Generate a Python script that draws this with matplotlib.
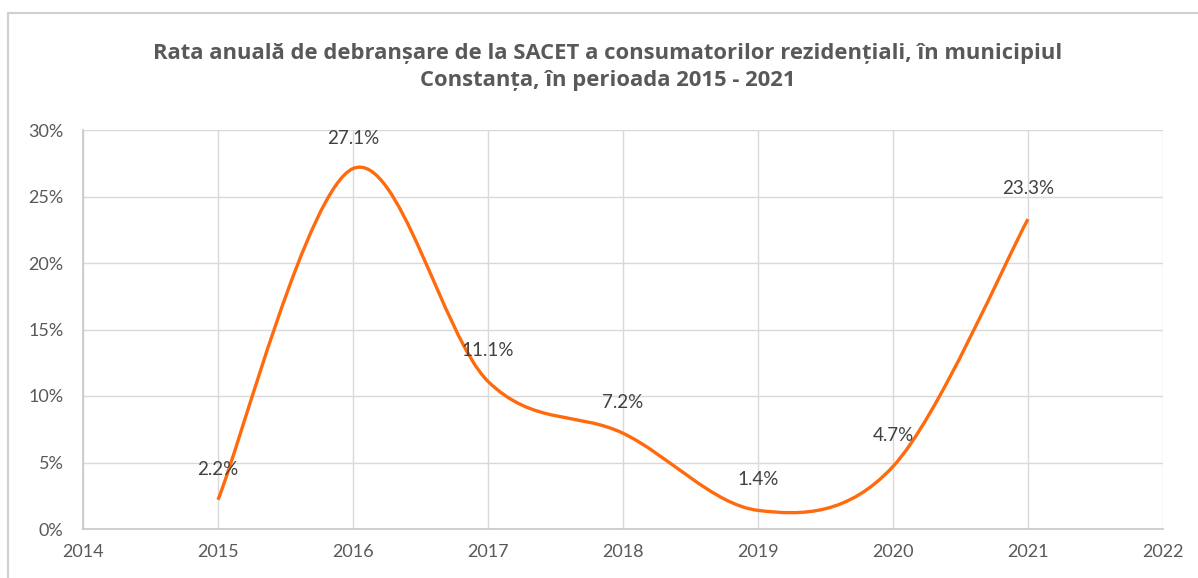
import matplotlib.pyplot as plt
from matplotlib.patches import Rectangle
from matplotlib.path import Path
from matplotlib.patches import PathPatch
from matplotlib.ticker import FuncFormatter, MultipleLocator

TITLE = ("Rata anuală de debranșare de la SACET a consumatorilor rezidențiali, în municipiul\n"
         "Constanța, în perioada 2015 - 2021")
years = [2015, 2016, 2017, 2018, 2019, 2020, 2021]
rates = [2.2, 27.1, 11.1, 7.2, 1.4, 4.7, 23.3]

ORANGE = "#FF6A0D"
GRID = "#D9D9D9"
TEXT = "#595959"

plt.rcParams["font.family"] = ["Lato", "DejaVu Sans"]


def smooth_path(xs, ys):
    # Excel-like smoothed line: cubic Bezier with Catmull-Rom tangents
    pts = list(zip(xs, ys))
    n = len(pts)
    verts = [pts[0]]
    codes = [Path.MOVETO]
    for i in range(n - 1):
        p0 = pts[max(i - 1, 0)]
        p1 = pts[i]
        p2 = pts[i + 1]
        p3 = pts[min(i + 2, n - 1)]
        c1 = (p1[0] + (p2[0] - p0[0]) / 6, p1[1] + (p2[1] - p0[1]) / 6)
        c2 = (p2[0] - (p3[0] - p1[0]) / 6, p2[1] - (p3[1] - p1[1]) / 6)
        verts += [c1, c2, p2]
        codes += [Path.CURVE4] * 3
    return Path(verts, codes)


fig = plt.figure(figsize=(11.98, 5.78), dpi=100)
ax = fig.add_axes([83 / 1198, 1 - 529 / 578, (1163 - 83) / 1198, (529 - 130) / 578])

# chart container border (cropped at right and bottom)
fig.patches.append(Rectangle((8 / 1198, -0.1), 1.2, 1 - 13 / 578 + 0.1,
                             transform=fig.transFigure, fill=False,
                             edgecolor="#D0D0D0", linewidth=1.5))

ax.set_xlim(2014, 2022)
ax.set_ylim(0, 30)
ax.xaxis.set_major_locator(MultipleLocator(1))
ax.yaxis.set_major_locator(MultipleLocator(5))
ax.yaxis.set_major_formatter(FuncFormatter(lambda v, _: f"{v:.0f}%"))
ax.grid(True, color=GRID, linewidth=1.0)
ax.set_axisbelow(True)
for side in ("top", "right"):
    ax.spines[side].set_visible(False)
for side in ("left", "bottom"):
    ax.spines[side].set_color("#C8C8C8")
    ax.spines[side].set_linewidth(1.2)
ax.tick_params(length=0, labelsize=13, labelcolor=TEXT)
ax.tick_params(axis="y", pad=14)
ax.tick_params(axis="x", pad=11)

ax.add_patch(PathPatch(smooth_path(years, rates), facecolor="none",
                       edgecolor=ORANGE, linewidth=2.4, capstyle="butt", zorder=3))

for x, y in zip(years, rates):
    ax.annotate(f"{y:.1f}%", (x, y), xytext=(0, 22), textcoords="offset points",
                ha="center", va="center", fontsize=13.5, color="#404040", zorder=4)

fig.text(608 / 1198, 1 - 67 / 578, TITLE, ha="center", va="center",
         fontsize=15.8, fontweight="bold", color=TEXT, linespacing=1.38,
         family=["Open Sans", "DejaVu Sans"])

fig.savefig("out.png", dpi=100, facecolor="white")
